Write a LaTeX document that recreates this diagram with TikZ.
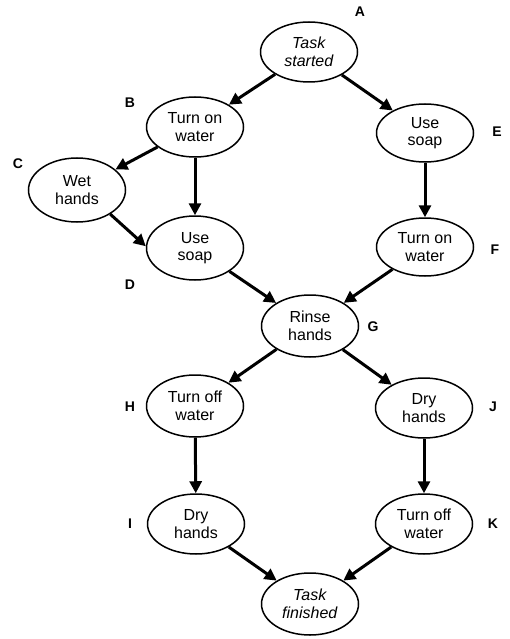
\documentclass[tikz,border=0pt]{standalone}
\usepackage{fontspec}
\setmainfont{Liberation Sans}
\usetikzlibrary{shapes.geometric,arrows.meta}
\begin{document}
\begin{tikzpicture}[x=1pt,y=-1pt,
  stage/.style={ellipse,draw,line width=1.5pt,minimum width=97pt,minimum height=60pt,inner sep=0pt,align=center,font=\fontsize{16}{17.5}\selectfont},
  tag/.style={font=\fontsize{14}{16}\selectfont\bfseries},
  flow/.style={line width=3pt,-{Triangle[length=12pt,width=12pt]}}]
\useasboundingbox (0,0) rectangle (509,639);
\node[stage] (A) at (309,52) {\textit{Task}\\\textit{started}};
\node[stage] (B) at (195,127) {Turn on\\water};
\node[stage,minimum height=64pt] (C) at (77,190) {Wet\\hands};
\node[stage,minimum height=64pt] (D) at (195,248) {Use\\soap};
\node[stage,minimum height=58pt] (E) at (425,133) {Use\\soap};
\node[stage,minimum height=58pt] (F) at (425,247) {Turn on\\water};
\node[stage,minimum height=62pt] (G) at (310,326) {Rinse\\hands};
\node[stage,minimum height=62pt] (H) at (195,406) {Turn off\\water};
\node[stage] (J) at (424,408) {Dry\\hands};
\node[stage] (I) at (196,524) {Dry\\hands};
\node[stage] (K) at (424,524) {Turn off\\water};
\node[stage,minimum height=62pt] (Z) at (310,604) {\textit{Task}\\\textit{finished}};
\node[tag] (lA) at (360,12) {A};
\node[tag] (lB) at (130,103) {B};
\node[tag] (lC) at (18,164) {C};
\node[tag] (lD) at (130,285) {D};
\node[tag] (lE) at (497,132) {E};
\node[tag] (lF) at (495,250) {F};
\node[tag] (lG) at (373,327) {G};
\node[tag] (lH) at (130,407) {H};
\node[tag] (lJ) at (493,407) {J};
\node[tag] (lI) at (130,524) {I};
\node[tag] (lK) at (493,524) {K};
\draw[flow] (A) -- (B);
\draw[flow] (A) -- (E);
\draw[flow] (B) -- (C);
\draw[flow] (B) -- (D);
\draw[flow] (C.-36) -- (D.178);
\draw[flow] (D) -- (G);
\draw[flow] (E) -- (F);
\draw[flow] (F) -- (G);
\draw[flow] (G) -- (H);
\draw[flow] (G) -- (J);
\draw[flow] (H) -- (I);
\draw[flow] (J) -- (K);
\draw[flow] (I) -- (Z);
\draw[flow] (K) -- (Z);
\end{tikzpicture}
\end{document}
